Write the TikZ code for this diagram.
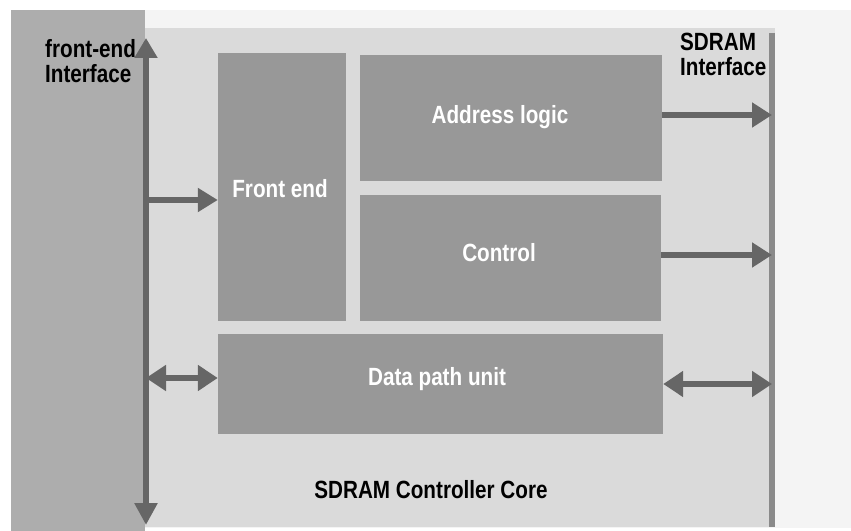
\documentclass[tikz,border=0pt]{standalone}
\usepackage{fontspec}
\setmainfont{Liberation Sans}[BoldFont={Liberation Sans Bold},BoldFeatures={FakeStretch=0.83}]
\usetikzlibrary{arrows.meta}
\definecolor{panel}{HTML}{ADADAD}
\definecolor{core}{HTML}{DADADA}
\definecolor{outer}{HTML}{F4F4F4}
\definecolor{blk}{HTML}{989898}
\definecolor{arr}{HTML}{666666}
\definecolor{rline}{HTML}{8A8A8A}
\tikzset{
  blockbox/.style={fill=blk, draw=none, inner sep=0pt},
  blocktext/.style={inner sep=0pt, anchor=base, text=white, font=\bfseries\fontsize{25}{25}\selectfont},
  lbl/.style={inner sep=0pt, align=left, font=\bfseries\fontsize{25}{25.5}\selectfont},
  conn/.style={draw=arr, line width=6bp, -{Triangle[length=20bp,width=24bp]}},
  biconn/.style={draw=arr, line width=6bp, {Triangle[length=20bp,width=25bp]}-{Triangle[length=20bp,width=25bp]}},
}
\begin{document}
\begin{tikzpicture}[x=1bp,y=-1bp]
\useasboundingbox (0,0) rectangle (851,531);
\fill[white] (0,0) rectangle (851,531);
% outer light region
\fill[outer] (145,10) rectangle (851,528);
% core
\fill[core] (145,28) rectangle (775,527);
% left panel
\fill[panel] (11,10) rectangle (145,531);
% right interface line
\coordinate (rtop) at (772,33);
\coordinate (rbot) at (772,527);
\draw[rline, line width=6bp] (rtop) -- (rbot);
% blocks
\node[blockbox, minimum width=128bp, minimum height=268bp] (fe) at (282,187) {};
\node[blockbox, minimum width=302bp, minimum height=126bp] (addr) at (511,118) {};
\node[blockbox, minimum width=301bp, minimum height=126bp] (ctrl) at (510.5,258) {};
\node[blockbox, minimum width=445bp, minimum height=100bp] (dp) at (440.5,384) {};
\node[blocktext] (fet) at (280,198) {Front end};
\node[blocktext] (addrt) at (500,124) {Address logic};
\node[blocktext] (ctrlt) at (499,262) {Control};
\node[blocktext] (dpt) at (437,385) {Data path unit};
% left vertical bus
\coordinate (ltop) at (146,38);
\coordinate (lbot) at (146,525);
\draw[draw=arr, line width=6bp, {Triangle[length=20bp,width=22bp]}-{Triangle[length=22bp,width=22bp]}] (ltop) -- (lbot);
% arrows
\coordinate (feIn) at (149,200);
\draw[draw=arr, line width=6bp, -{Triangle[length=20bp,width=23bp]}] (feIn) -- (fe.west |- feIn);
\coordinate (a1) at (772,115);
\draw[conn] (addr.east |- a1) -- (a1);
\coordinate (a2) at (772,255);
\draw[conn] (ctrl.east |- a2) -- (a2);
\coordinate (b1) at (146,378);
\draw[biconn] (b1) -- (dp.west |- b1);
\coordinate (b2) at (772,384);
\draw[biconn] (dp.east |- b2) -- (b2);
% labels
\node[lbl, anchor=base west] (fl) at (45,83) {front-end\\Interface};
\node[lbl, anchor=base west] (sl) at (680,76) {SDRAM\\Interface};
\node[lbl, anchor=base] (cl) at (431,498) {SDRAM Controller Core};
\end{tikzpicture}
\end{document}
